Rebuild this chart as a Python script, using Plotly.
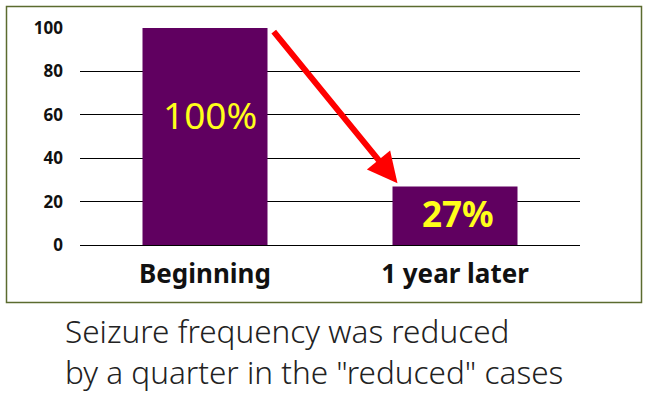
import plotly.graph_objects as go

categories = ["Beginning", "1 year later"]
values = [100, 27]
bar_labels = ["100%", "27%"]
y_ticks = [0, 20, 40, 60, 80, 100]
caption_lines = ["Seizure frequency was reduced", "by a quarter in the \"reduced\" cases"]

W, H = 648, 395
L, R, T, B = 80, 68, 28, 150
pw, ph = W - L - R, H - T - B

def px_to_paper_x(px):
    return (px - L) / pw

def px_to_paper_y(py):
    return (H - B - py) / ph

fig = go.Figure()
fig.add_trace(go.Bar(
    x=categories, y=values, width=0.5,
    marker=dict(color="#600060", line=dict(width=0)),
    hoverinfo="skip",
))

annotations = []
label_y = [60, 14.5]
label_bold = [False, True]
label_size = [37, 35]
label_shift = [5, 3]
for i, (lab, ly, bold, sz, xs) in enumerate(zip(bar_labels, label_y, label_bold, label_size, label_shift)):
    annotations.append(dict(
        x=i, y=ly, xref="x", yref="y", text=("<b>%s</b>" % lab) if bold else lab,
        showarrow=False, font=dict(family="Noto Sans", size=sz, color="#ffff1a"),
        xanchor="center", yanchor="middle", xshift=xs,
    ))
annotations.append(dict(
    x=0.77, y=values[1] + 1.5, xref="x", yref="y",
    ax=0.27, ay=values[0] - 1, axref="x", ayref="y",
    showarrow=True, arrowhead=2, arrowsize=1.0, arrowwidth=6, arrowcolor="#ff0000",
    text="",
))
annotations.append(dict(
    x=px_to_paper_x(63), y=px_to_paper_y(351), xref="paper", yref="paper",
    text="<br>".join(caption_lines), showarrow=False, xanchor="left", yanchor="middle",
    align="left",
    font=dict(family="Noto Sans", size=31.5, color="#222222", weight=300),
))

fig.update_layout(
    width=W, height=H,
    margin=dict(l=L, r=R, t=T, b=B, pad=0),
    paper_bgcolor="white", plot_bgcolor="white",
    showlegend=False,
    bargap=0.5,
    annotations=annotations,
    shapes=[dict(
        type="rect", xref="paper", yref="paper",
        x0=px_to_paper_x(6.5), x1=px_to_paper_x(641.5),
        y0=px_to_paper_y(302.5), y1=px_to_paper_y(6.5),
        line=dict(color="#5b6b2f", width=1.5), fillcolor="rgba(0,0,0,0)", layer="below",
    )],
    xaxis=dict(
        type="category", range=[-0.5, 1.5], showgrid=False, showline=False, ticks="",
        tickfont=dict(family="Noto Sans", size=26, color="#111111", weight="bold"),
        ticklabelstandoff=11, fixedrange=True,
    ),
    yaxis=dict(
        range=[0, 100], tickvals=y_ticks, showgrid=True, gridcolor="#000000", gridwidth=1,
        zeroline=True, zerolinecolor="#000000", zerolinewidth=1, showline=False, ticks="",
        tickfont=dict(family="Noto Sans", size=17, color="#111111", weight="bold"),
        ticklabelstandoff=16, fixedrange=True,
    ),
)

fig.write_html(
    "out.html",
    config={"displayModeBar": False, "staticPlot": True},
    post_script="document.body.style.margin='0';document.body.style.overflow='hidden';",
)
